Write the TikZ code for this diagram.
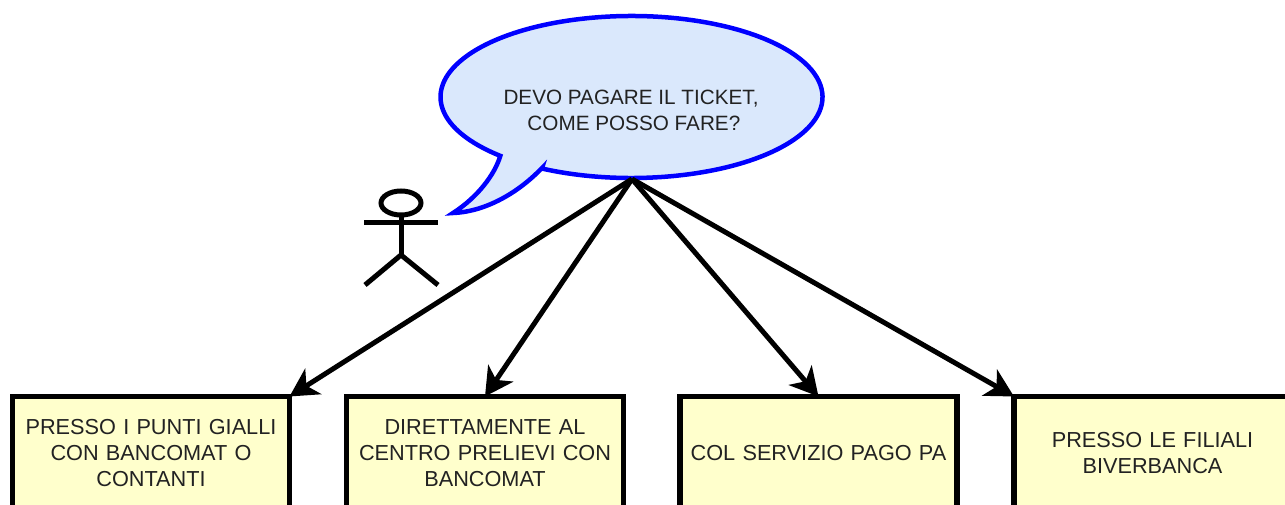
\documentclass[tikz,border=0pt]{standalone}
\usepackage{fontspec}
\setmainfont{Liberation Sans}
\usetikzlibrary{arrows.meta,shapes.geometric}
\definecolor{bubblefill}{HTML}{DAE8FC}
\definecolor{boxfill}{HTML}{FFFFCC}
\definecolor{ink}{HTML}{222222}
\tikzset{
  bubble/.style={draw=blue,fill=bubblefill,line width=4.5pt,line join=miter},
  choicebox/.style={draw=black,fill=boxfill,line width=5.5pt,minimum width=277pt,minimum height=113pt,
    text width=270pt,align=center,inner sep=0pt,outer sep=0pt,text=ink,font=\fontsize{21.7}{25.8}\selectfont},
  link/.style={draw=black,line width=5pt,-{Stealth[length=28pt,width=30pt,inset=8pt]}},
  stick/.style={draw=black,line width=5pt}
}
\begin{document}
\begin{tikzpicture}[x=1pt,y=1pt]
\clip (0,0) rectangle (1285,504);
\fill[white] (0,0) rectangle (1285,504);
% speech bubble
\draw[bubble] (631.5,407)+(242:191 and 81) arc[start angle=242,end angle=586.6,x radius=191,y radius=81]
  .. controls (495,330) and (478,307) .. (453,291)
  .. controls (482,292) and (515,308) .. (542,336) -- cycle;
\node[font=\fontsize{20.7}{25.8}\selectfont,text=ink,align=center,inner sep=0pt] (bubbletext) at (631,393.5) {DEVO PAGARE IL TICKET,\\\ COME POSSO FARE?};
\coordinate (bubbletip) at (632,325);
% stick figure
\draw[stick] (401,301) ellipse[x radius=20,y radius=12];
\coordinate (neck) at (401,289);
\coordinate (hip) at (401,249);
\draw[stick] (neck) -- (hip);
\draw[stick] (364,281) -- (438,281);
\draw[stick] (365,219) -- (hip) -- (438,219);
% boxes
\node[choicebox] (b1) at (151,51) {PRESSO I PUNTI GIALLI\\CON BANCOMAT O\\CONTANTI};
\node[choicebox] (b2) at (485,51) {DIRETTAMENTE AL\\CENTRO PRELIEVI CON\\BANCOMAT};
\node[choicebox] (b3) at (818.5,51) {COL SERVIZIO PAGO PA};
\node[choicebox] (b4) at (1152.5,51) {PRESSO LE FILIALI\\BIVERBANCA};
% connectors
\draw[link] (bubbletip) -- (b1.north east);
\draw[link] (bubbletip) -- (b2.north);
\draw[link] (bubbletip) -- (b3.north);
\draw[link] (bubbletip) -- (b4.north west);
\end{tikzpicture}
\end{document}
